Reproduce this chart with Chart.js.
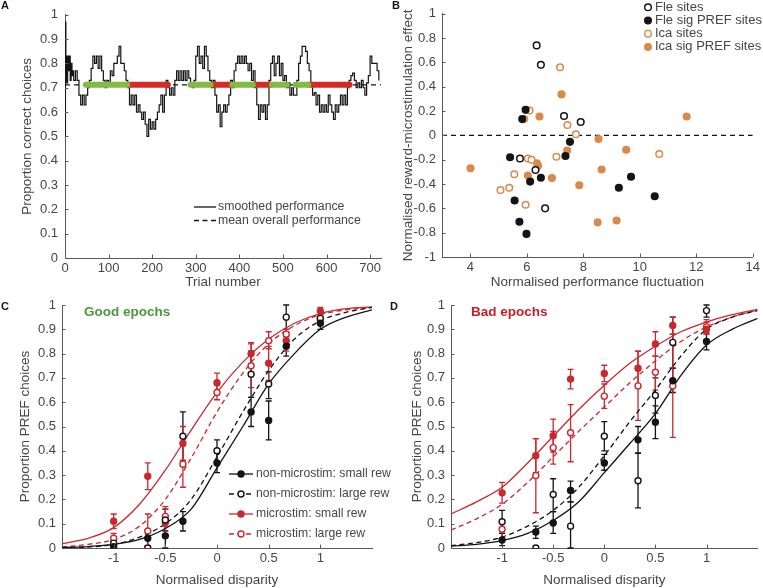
<!DOCTYPE html>
<html>
<head>
<meta charset="utf-8">
<script src="https://cdn.jsdelivr.net/npm/chart.js@4.4.1/dist/chart.umd.min.js"></script>
<style>
  body { margin: 0; background: #fff; width: 763px; height: 588px; position: relative; overflow: hidden; }
  canvas { position: absolute; }
</style>
</head>
<body>
<canvas id="cA" width="385" height="290" style="left:0;top:0"></canvas>
<canvas id="cB" width="383" height="290" style="left:380px;top:0"></canvas>
<canvas id="cC" width="400" height="298" style="left:0;top:290px"></canvas>
<canvas id="cD" width="383" height="298" style="left:380px;top:290px"></canvas>
<script>
// ---- panel A : smoothed performance over trials
const trialNum = [0,1,2,3,4,6,8,10,12,14,16,18,20,24,28,32,36,40,44,48,52,56,60,64,68,72,76,80,84,88,92,96,
  100,104,108,112,116,120,124,128,132,136,140,144,148,152,156,160,164,168,172,176,180,184,188,192,196,
  200,204,208,212,216,220,224,228,232,236,240,244,248,252,256,260,264,268,272,276,280,284,288,292,296,
  300,304,308,312,316,320,324,328,332,336,340,344,348,352,356,360,364,368,372,376,380,384,388,392,396,
  400,404,408,412,416,420,424,428,432,436,440,444,448,452,456,460,464,468,472,476,480,484,488,492,496,
  500,504,508,512,516,520,524,528,532,536,540,544,548,552,556,560,564,568,572,576,580,584,588,592,596,
  600,604,608,612,616,620,624,628,632,636,640,644,648,652,656,660,664,668,672,676,680,684,688,692,696,
  700,704,708,712,716,720];
const perfVal = [0.50,0.97,0.73,0.83,0.72,0.83,0.77,0.83,0.73,0.80,0.75,0.77,0.73,0.77,0.73,0.67,0.63,0.67,0.63,0.67,0.70,0.73,0.78,0.83,0.80,0.83,0.78,0.83,0.77,0.73,0.70,0.73,
  0.72,0.77,0.75,0.80,0.80,0.83,0.87,0.80,0.80,0.77,0.73,0.70,0.63,0.67,0.63,0.67,0.60,0.63,0.60,0.57,0.60,0.55,0.50,0.57,0.53,
  0.56,0.53,0.57,0.60,0.63,0.67,0.60,0.67,0.73,0.70,0.67,0.70,0.67,0.73,0.77,0.73,0.77,0.73,0.77,0.73,0.77,0.74,0.72,0.70,0.73,
  0.83,0.87,0.80,0.83,0.78,0.87,0.83,0.77,0.73,0.70,0.73,0.67,0.60,0.63,0.54,0.60,0.63,0.60,0.63,0.67,0.73,0.70,0.77,0.80,0.83,
  0.80,0.83,0.80,0.83,0.80,0.77,0.80,0.73,0.77,0.70,0.63,0.57,0.63,0.60,0.63,0.57,0.63,0.73,0.80,0.83,0.75,0.80,0.83,0.75,0.80,
  0.73,0.75,0.70,0.72,0.67,0.70,0.67,0.67,0.73,0.80,0.83,0.87,0.87,0.85,0.80,0.77,0.72,0.67,0.68,0.63,0.67,0.60,0.63,0.60,0.63,
  0.60,0.67,0.63,0.60,0.57,0.63,0.60,0.63,0.67,0.63,0.67,0.63,0.70,0.73,0.75,0.76,0.73,0.70,0.72,0.70,0.73,0.70,0.67,0.72,0.75,
  0.83,0.80,0.80,0.80,0.77,0.73];
const meanPerf = 0.712;
const goodEpochs = [[48, 143], [288, 334], [384, 431], [475, 509], [529, 558]];
const badEpochs = [[147, 236], [340, 382], [433, 473], [560, 653]];

// ---- panel B : fluctuation vs microstimulation effect
const fleX = [6.35, 6.5, 7.32, 7.91, 5.76, 6.31, 6.65];
const fleY = [0.74, 0.58, 0.16, 0.11, -0.19, -0.285, -0.60];
const fleSigX = [5.96, 5.84, 5.41, 7.53, 7.37, 6.12, 6.5, 5.57, 5.74, 5.99, 9.26, 9.69, 10.53];
const fleSigY = [0.21, 0.134, -0.18, -0.053, -0.17, -0.38, -0.348, -0.535, -0.71, -0.81, -0.43, -0.34, -0.50];
const icaX = [7.18, 6.1, 5.91, 7.44, 7.74, 7.05, 6.04, 6.17, 5.56, 5.38, 5.07, 5.96, 10.69];
const icaY = [0.56, 0.205, 0.134, 0.085, 0.01, -0.175, -0.19, -0.2, -0.32, -0.43, -0.45, -0.57, -0.153];
const icaSigX = [7.23, 6.45, 11.66, 8.54, 7.43, 9.52, 4.01, 6.36, 6.4, 6.04, 6.89, 8.65, 7.86, 8.51, 9.18];
const icaSigY = [0.337, 0.156, 0.156, -0.03, -0.125, -0.118, -0.27, -0.23, -0.25, -0.33, -0.35, -0.28, -0.41, -0.715, -0.70];

// ---- panels C and D : psychometric data
const disparity = [-1, -0.67, -0.5, -0.33, 0, 0.33, 0.5, 0.67, 1];
const fitX = [-1.5, -1.25, -1, -0.75, -0.5, -0.25, 0, 0.25, 0.5, 0.75, 1, 1.25, 1.5];

const goodNonSmall = [0.005, 0.04, 0.05, 0.11, 0.35, 0.56, 0.525, 0.83, 0.925];
const goodNonSmallLo = [0, 0.01, 0, 0.07, 0.31, 0.5, 0.445, 0.79, 0.9];
const goodNonSmallHi = [0.015, 0.07, 0.1, 0.15, 0.39, 0.62, 0.605, 0.87, 0.95];
const goodNonLarge = [0.02, 0, 0.115, 0.46, 0.40, 0.715, 0.675, 0.95, 0.945];
const goodNonLargeLo = [0.01, 0, 0.07, 0.36, 0.355, 0.62, 0.615, 0.9, 0.92];
const goodNonLargeHi = [0.03, 0.01, 0.16, 0.56, 0.445, 0.81, 0.725, 1.0, 0.97];
const goodStimSmall = [0.11, 0.295, 0.105, 0.43, 0.68, 0.80, 0.76, 0.853, 0.975];
const goodStimSmallLo = [0.08, 0.24, 0.05, 0.36, 0.64, 0.755, 0.69, 0.81, 0.96];
const goodStimSmallHi = [0.14, 0.35, 0.16, 0.5, 0.72, 0.845, 0.83, 0.89, 0.99];
const goodStimLarge = [0.04, 0.07, 0.13, 0.345, 0.64, 0.75, 0.853, 0.88, 0.94];
const goodStimLargeLo = [0.02, 0, 0.09, 0.25, 0.61, 0.66, 0.82, 0.85, 0.92];
const goodStimLargeHi = [0.06, 0.14, 0.17, 0.43, 0.67, 0.84, 0.89, 0.9, 0.96];
const goodFitNonSmall = [0.002, 0.006, 0.015, 0.035, 0.08, 0.16, 0.33, 0.5, 0.675, 0.8, 0.9, 0.95, 0.98];
const goodFitNonLarge = [0.001, 0.004, 0.015, 0.045, 0.1, 0.2, 0.375, 0.56, 0.73, 0.86, 0.935, 0.97, 0.99];
const goodFitStimSmall = [0.018, 0.04, 0.084, 0.18, 0.32, 0.485, 0.64, 0.765, 0.86, 0.925, 0.965, 0.985, 0.992];
const goodFitStimLarge = [0.005, 0.015, 0.035, 0.09, 0.2, 0.37, 0.56, 0.72, 0.84, 0.915, 0.96, 0.98, 0.99];

const badNonSmall = [0.033, 0.066, 0.103, 0.237, 0.35, 0.445, 0.518, 0.688, 0.85];
const badNonSmallLo = [0.01, 0.04, 0.06, 0.19, 0.32, 0.39, 0.45, 0.64, 0.815];
const badNonSmallHi = [0.06, 0.09, 0.15, 0.275, 0.385, 0.5, 0.585, 0.74, 0.885];
const badNonLarge = [0.108, 0, 0.22, 0.09, 0.46, 0.277, 0.628, 0.846, 0.977];
const badNonLargeLo = [0.06, 0, 0.15, 0, 0.4, 0.165, 0.555, 0.74, 0.95];
const badNonLargeHi = [0.155, 0.01, 0.285, 0.19, 0.52, 0.39, 0.7, 0.95, 1.0];
const badStimSmall = [0.227, 0.38, 0.462, 0.695, 0.718, 0.74, 0.84, 0.916, 0.9];
const badStimSmallLo = [0.185, 0.31, 0.395, 0.655, 0.685, 0.67, 0.79, 0.88, 0.88];
const badStimSmallHi = [0.27, 0.45, 0.53, 0.735, 0.752, 0.81, 0.89, 0.95, 0.93];
const badStimLarge = [0.077, 0.298, 0.413, 0.474, 0.625, 0.667, 0.723, 0.667, 0.91];
const badStimLargeLo = [0.04, 0.145, 0.345, 0.355, 0.575, 0.525, 0.65, 0.455, 0.88];
const badStimLargeHi = [0.115, 0.45, 0.48, 0.59, 0.675, 0.81, 0.79, 0.88, 0.94];
const badFitNonSmall = [0.008, 0.015, 0.03, 0.06, 0.113, 0.19, 0.31, 0.43, 0.553, 0.71, 0.835, 0.9, 0.945];
const badFitNonLarge = [0.01, 0.022, 0.045, 0.09, 0.155, 0.25, 0.38, 0.52, 0.65, 0.79, 0.9, 0.95, 0.977];
const badFitStimSmall = [0.14, 0.19, 0.25, 0.35, 0.46, 0.57, 0.67, 0.76, 0.83, 0.89, 0.93, 0.96, 0.982];
const badFitStimLarge = [0.074, 0.12, 0.18, 0.27, 0.375, 0.48, 0.58, 0.68, 0.77, 0.85, 0.91, 0.95, 0.98];

const AXIS = '#5a5a5a';
const TXT = '#464646';
const INK = '#141414';
const GREEN = '#82ba42';
const REDBAR = '#d42b27';
const ORANGE = '#d98a4b';
const RED = '#c9282e';
const FONT = '"Liberation Sans", Arial, Helvetica, sans-serif';

Chart.defaults.font.family = FONT;
Chart.defaults.color = TXT;
Chart.defaults.animation = false;

function pts(xs, ys) {
  return xs.map((x, i) => ({x: x, y: ys[i]}));
}

function linAxis(o) {
  const horiz = o.pos === 'bottom';
  return {
    type: 'linear', position: o.pos, min: o.min, max: o.max,
    grid: {display: false, drawTicks: false},
    border: {display: true, color: AXIS, width: 1},
    ticks: {font: {size: 13}, color: TXT, padding: o.tp, autoSkip: false, maxRotation: 0,
      callback: v => String(v)},
    title: {display: true, text: o.title, color: TXT, font: {size: 13.5},
      padding: horiz ? {top: 0, bottom: o.ttp} : {top: o.ttp, bottom: 0}},
    afterBuildTicks: s => { s.ticks = o.ticks.map(v => ({value: v})); },
    afterFit: s => { if (horiz) s.height = o.size; else s.width = o.size; }
  };
}

function marker(ctx, x, y, color, open, r) {
  ctx.beginPath();
  ctx.arc(x, y, r, 0, Math.PI * 2);
  ctx.fillStyle = open ? '#fff' : color;
  ctx.fill();
  ctx.lineWidth = 1.4;
  ctx.strokeStyle = color;
  ctx.stroke();
}

// error bars, inward tick marks, legend and labels
function overlay(cfg) {
  return {
    id: 'overlay',
    beforeDatasetsDraw(chart) {
      const ctx = chart.ctx, xs = chart.scales.x, ys = chart.scales.y;
      (cfg.errors || []).forEach(e => {
        ctx.save();
        ctx.strokeStyle = e.color;
        ctx.lineWidth = 1.3;
        disparity.forEach((xv, i) => {
          const px = xs.getPixelForValue(xv);
          const p1 = ys.getPixelForValue(e.lo[i]);
          const p2 = ys.getPixelForValue(e.hi[i]);
          ctx.beginPath();
          ctx.moveTo(px, p1); ctx.lineTo(px, p2);
          ctx.moveTo(px - 3, p1); ctx.lineTo(px + 3, p1);
          ctx.moveTo(px - 3, p2); ctx.lineTo(px + 3, p2);
          ctx.stroke();
        });
        ctx.restore();
      });
    },
    afterDraw(chart) {
      const ctx = chart.ctx, a = chart.chartArea;
      const xs = chart.scales.x, ys = chart.scales.y;
      ctx.save();
      ctx.strokeStyle = AXIS;
      ctx.lineWidth = 1;
      xs.ticks.forEach(t => {
        const p = Math.round(xs.getPixelForValue(t.value)) + 0.5;
        ctx.beginPath(); ctx.moveTo(p, a.bottom); ctx.lineTo(p, a.bottom - 3.5); ctx.stroke();
      });
      ys.ticks.forEach(t => {
        const p = Math.round(ys.getPixelForValue(t.value)) + 0.5;
        ctx.beginPath(); ctx.moveTo(a.left, p); ctx.lineTo(a.left + 3.5, p); ctx.stroke();
      });
      ctx.restore();

      const lg = cfg.legend;
      if (lg) {
        ctx.save();
        ctx.font = lg.size + 'px ' + FONT;
        ctx.textBaseline = 'middle';
        lg.items.forEach((it, i) => {
          const y = lg.y + i * lg.dy;
          if (lg.lineFrom !== undefined) {
            ctx.beginPath();
            ctx.setLineDash(it.dash || []);
            ctx.strokeStyle = it.color;
            ctx.lineWidth = 1.3;
            ctx.moveTo(lg.lineFrom, y); ctx.lineTo(lg.lineTo, y);
            ctx.stroke();
            ctx.setLineDash([]);
          }
          if (it.marker) marker(ctx, lg.markX, y, it.color, it.marker === 'open', lg.r);
          ctx.fillStyle = TXT;
          ctx.fillText(it.text, lg.textX, y);
        });
        ctx.restore();
      }
      (cfg.notes || []).forEach(n => {
        ctx.save();
        ctx.font = n.font;
        ctx.fillStyle = n.color;
        ctx.textBaseline = 'middle';
        ctx.fillText(n.text, n.x, n.y);
        ctx.restore();
      });
    }
  };
}

function baseOptions(pad, xAxis, yAxis) {
  return {
    responsive: false,
    animation: false,
    layout: {padding: pad},
    plugins: {legend: {display: false}, tooltip: {enabled: false}},
    scales: {x: xAxis, y: yAxis}
  };
}

const unitTicks = [0, 0.1, 0.2, 0.3, 0.4, 0.5, 0.6, 0.7, 0.8, 0.9, 1];

// ---------- A
const epochSets = [];
goodEpochs.forEach(e => epochSets.push({data: [{x: e[0], y: meanPerf}, {x: e[1], y: meanPerf}],
  showLine: true, borderColor: GREEN, borderWidth: 6, borderCapStyle: 'round', pointRadius: 0, order: 1}));
badEpochs.forEach(e => epochSets.push({data: [{x: e[0], y: meanPerf}, {x: e[1], y: meanPerf}],
  showLine: true, borderColor: REDBAR, borderWidth: 6, borderCapStyle: 'round', pointRadius: 0, order: 1}));

new Chart(document.getElementById('cA'), {
  type: 'scatter',
  data: {datasets: epochSets.concat([
    {data: [{x: 0, y: meanPerf}, {x: 725, y: meanPerf}], showLine: true, borderColor: INK,
      borderWidth: 1.2, borderDash: [5, 4], pointRadius: 0, order: 2},
    {data: pts(trialNum, perfVal), showLine: true, stepped: true, borderColor: INK,
      borderWidth: 1.2, pointRadius: 0, order: 3}
  ])},
  options: baseOptions({left: 0, right: 4, top: 11, bottom: 0},
    linAxis({pos: 'bottom', min: 0, max: 725, ticks: [0, 100, 200, 300, 400, 500, 600, 700],
      title: 'Trial number', tp: 3, ttp: 0, size: 32}),
    linAxis({pos: 'left', min: 0, max: 1, ticks: unitTicks,
      title: 'Proportion correct choices', tp: 7, ttp: 19, size: 65})),
  plugins: [overlay({
    legend: {size: 12.3, y: 207, dy: 13.5, lineFrom: 194, lineTo: 216, textX: 218, items: [
      {text: 'smoothed performance', color: INK},
      {text: 'mean overall performance', color: INK, dash: [5, 3.5]}
    ]},
    notes: [{text: 'A', x: 1, y: 6, font: 'bold 11px ' + FONT, color: INK}]
  })]
});

// ---------- B
function dots(xs, ys, color, open) {
  return {data: pts(xs, ys), pointRadius: 3.3, pointBorderWidth: 1.5,
    pointBorderColor: color, pointBackgroundColor: open ? '#fff' : color, order: 1};
}
new Chart(document.getElementById('cB'), {
  type: 'scatter',
  data: {datasets: [
    dots(fleX, fleY, INK, true),
    dots(fleSigX, fleSigY, INK, false),
    dots(icaX, icaY, ORANGE, true),
    dots(icaSigX, icaSigY, ORANGE, false),
    {data: [{x: 3, y: 0}, {x: 14, y: 0}], showLine: true, borderColor: INK, borderWidth: 1.2,
      borderDash: [5, 4], pointRadius: 0, order: 10}
  ]},
  options: baseOptions({left: 0, right: 9, top: 11, bottom: 0},
    linAxis({pos: 'bottom', min: 3, max: 14, ticks: [4, 6, 8, 10, 12, 14],
      title: 'Normalised performance fluctuation', tp: 3, ttp: 0, size: 33}),
    linAxis({pos: 'left', min: -1, max: 1, ticks: [-1, -0.8, -0.6, -0.4, -0.2, 0, 0.2, 0.4, 0.6, 0.8, 1],
      title: 'Normalised reward-microstimulation effect', tp: 6, ttp: 20, size: 62})),
  plugins: [overlay({
    legend: {size: 13, y: 7.3, dy: 13.2, markX: 268, textX: 275, r: 3.3, items: [
      {text: 'Fle sites', color: INK, marker: 'open'},
      {text: 'Fle sig PREF sites', color: INK, marker: 'filled'},
      {text: 'Ica sites', color: ORANGE, marker: 'open'},
      {text: 'Ica sig PREF sites', color: ORANGE, marker: 'filled'}
    ]},
    notes: [{text: 'B', x: 12, y: 6, font: 'bold 11px ' + FONT, color: INK}]
  })]
});

// ---------- C and D
function curve(ys, color, dashed) {
  return {data: pts(fitX, ys), showLine: true, borderColor: color, borderWidth: 1.3,
    borderDash: dashed ? [5, 3.5] : [], cubicInterpolationMode: 'monotone', pointRadius: 0, order: 2};
}
function marks(ys, color, open) {
  return {data: pts(disparity, ys), pointRadius: 3, pointBorderWidth: 1.4,
    pointBorderColor: color, pointBackgroundColor: open ? '#fff' : color, order: 1};
}
function psychChart(id, sets, pad, ySize, yPad, note, noteColor, noteX, letterX, legend) {
  new Chart(document.getElementById(id), {
    type: 'scatter',
    data: {datasets: [
      curve(sets.fit[0], INK, false), curve(sets.fit[1], INK, true),
      curve(sets.fit[2], RED, false), curve(sets.fit[3], RED, true),
      marks(sets.val[0], INK, false), marks(sets.val[1], INK, true),
      marks(sets.val[2], RED, false), marks(sets.val[3], RED, true)
    ]},
    options: baseOptions(pad,
      linAxis({pos: 'bottom', min: -1.5, max: 1.5, ticks: [-1, -0.5, 0, 0.5, 1],
        title: 'Normalised disparity', tp: 3, ttp: 0, size: 298 - 258 + (pad.top - 15)}),
      linAxis({pos: 'left', min: 0, max: 1, ticks: unitTicks,
        title: 'Proportion PREF choices', tp: 6, ttp: yPad, size: ySize})),
    plugins: [overlay({
      errors: [
        {lo: sets.lo[0], hi: sets.hi[0], color: INK}, {lo: sets.lo[1], hi: sets.hi[1], color: INK},
        {lo: sets.lo[2], hi: sets.hi[2], color: RED}, {lo: sets.lo[3], hi: sets.hi[3], color: RED}
      ],
      legend: legend,
      notes: [
        {text: note, x: noteX, y: 22, font: 'bold 13.5px ' + FONT, color: noteColor},
        {text: id === 'cC' ? 'C' : 'D', x: letterX, y: 17, font: 'bold 11px ' + FONT, color: INK}
      ]
    })]
  });
}

psychChart('cC', {
  fit: [goodFitNonSmall, goodFitNonLarge, goodFitStimSmall, goodFitStimLarge],
  val: [goodNonSmall, goodNonLarge, goodStimSmall, goodStimLarge],
  lo: [goodNonSmallLo, goodNonLargeLo, goodStimSmallLo, goodStimLargeLo],
  hi: [goodNonSmallHi, goodNonLargeHi, goodStimSmallHi, goodStimLargeHi]
}, {left: 0, right: 28, top: 15, bottom: 0}, 62, 17, 'Good epochs', '#4f973b', 84, 1, {
  size: 12.2, y: 184, dy: 20, lineFrom: 229, lineTo: 253, markX: 241, textX: 256, r: 3, items: [
    {text: 'non-microstim: small rew', color: INK, marker: 'filled'},
    {text: 'non-microstim: large rew', color: INK, marker: 'open', dash: [5, 3.5]},
    {text: 'microstim: small rew', color: RED, marker: 'filled'},
    {text: 'microstim: large rew', color: RED, marker: 'open', dash: [5, 3.5]}
  ]});

psychChart('cD', {
  fit: [badFitNonSmall, badFitNonLarge, badFitStimSmall, badFitStimLarge],
  val: [badNonSmall, badNonLarge, badStimSmall, badStimLarge],
  lo: [badNonSmallLo, badNonLargeLo, badStimSmallLo, badStimLargeLo],
  hi: [badNonSmallHi, badNonLargeHi, badStimSmallHi, badStimLargeHi]
}, {left: 0, right: 2, top: 15, bottom: 0}, 71, 29, 'Bad epochs', '#c21f2b', 91, 10, null);
</script>
</body>
</html>
